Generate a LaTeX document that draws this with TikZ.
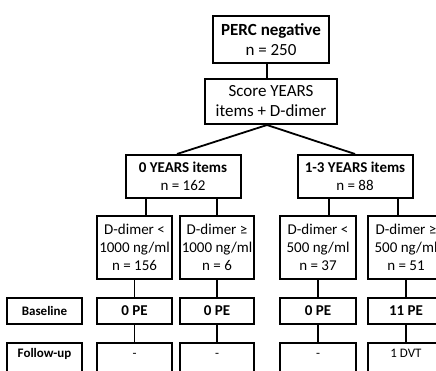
\documentclass[tikz,border=0pt]{standalone}
\usepackage{fontspec}
\setmainfont{Carlito}
\usetikzlibrary{positioning,calc}

\begin{document}
\begin{tikzpicture}[
  x=1pt, y=1pt,
  node distance=17pt,
  box/.style={draw, line width=2pt, align=center, inner sep=1pt},
  topbox/.style={box, font=\fontsize{17}{20}\selectfont},
  midbox/.style={box, font=\fontsize{15}{18}\selectfont, minimum width=115pt, minimum height=43pt},
  cutbox/.style={box, font=\fontsize{15}{18}\selectfont, minimum height=63pt},
  pebox/.style={box, font=\fontsize{15}{18}\selectfont\bfseries, minimum height=26pt},
  fubox/.style={box, font=\fontsize{13}{15}\selectfont, text height=13pt, text depth=45pt},
  rowlabel/.style={minimum width=75pt, font=\fontsize{13}{15}\selectfont\bfseries},
  link/.style={line width=1.8pt}
]
\useasboundingbox (0,0) rectangle (436,-371);
\clip (0,0) rectangle (436,-371);

\node[topbox, minimum width=116pt, minimum height=47pt] (perc) at (271,-39.5) {\textbf{PERC negative}\\n = 250};
\node[topbox, minimum width=132pt, minimum height=45pt, below=14pt of perc] (score) {Score YEARS\\items + D-dimer};
\draw[link] ([xshift=-4pt]perc.south) -- ([xshift=-4pt]perc.south |- score.north);

\node[midbox, below=29pt of score, xshift=-88pt] (mid0) {\textbf{0 YEARS items}\\n = 162};
\node[midbox, right=55pt of mid0] (mid1) {\textbf{1-3 YEARS items}\\n = 88};
\draw[link] ([xshift=-4pt]score.south) -- ([xshift=-6pt]mid0.north);
\draw[link] ([xshift=-4pt]score.south) -- (mid1.north);

% D-dimer cut-offs
\node[cutbox, minimum width=75pt, below=16pt of mid0, xshift=-48.5pt] (dA) {D-dimer <\\1000 ng/ml\\n = 156};
\node[cutbox, minimum width=74pt, right=6pt of dA] (dB) {D-dimer ≥\\1000 ng/ml\\n = 6};
\node[cutbox, minimum width=76pt, right=24pt of dB] (dC) {D-dimer <\\500 ng/ml\\n = 37};
\node[cutbox, minimum width=76pt, right=10pt of dC] (dD) {D-dimer ≥\\500 ng/ml\\n = 51};
\draw[link] ([xshift=11.5pt]dA.north) -- ([xshift=11.5pt]dA.north |- mid0.south);
\draw[link] (dB.north) -- (dB.north |- mid0.south);
\draw[link] ([xshift=11pt]dC.north) -- ([xshift=11pt]dC.north |- mid1.south);
\draw[link] ([xshift=-8pt]dD.north) -- ([xshift=-8pt]dD.north |- mid1.south);

% baseline
\node[pebox, minimum width=75pt, below=of dA] (peA) {0 PE};
\node[pebox, minimum width=74pt, below=of dB] (peB) {0 PE};
\node[pebox, minimum width=76pt, below=of dC] (peC) {0 PE};
\node[pebox, minimum width=76pt, below=of dD] (peD) {11 PE};
\node[box, rowlabel, minimum height=26pt, left=13pt of peA] (baseline) {Baseline};
\foreach \n in {A,B,C,D} {
  \draw[link] (d\n.south) -- (pe\n.north);
}

% follow-up
\node[fubox, minimum width=75pt, below=of peA] (fuA) {-};
\node[fubox, minimum width=74pt, below=of peB] (fuB) {-};
\node[fubox, minimum width=76pt, below=of peC] (fuC) {-};
\node[fubox, minimum width=76pt, below=of peD] (fuD) {1 DVT};
\node[fubox, rowlabel, left=13pt of fuA] (followup) {Follow-up};
\foreach \n in {A,B,C,D} {
  \draw[link] (pe\n.south) -- (fu\n.north);
}
\end{tikzpicture}
\end{document}
